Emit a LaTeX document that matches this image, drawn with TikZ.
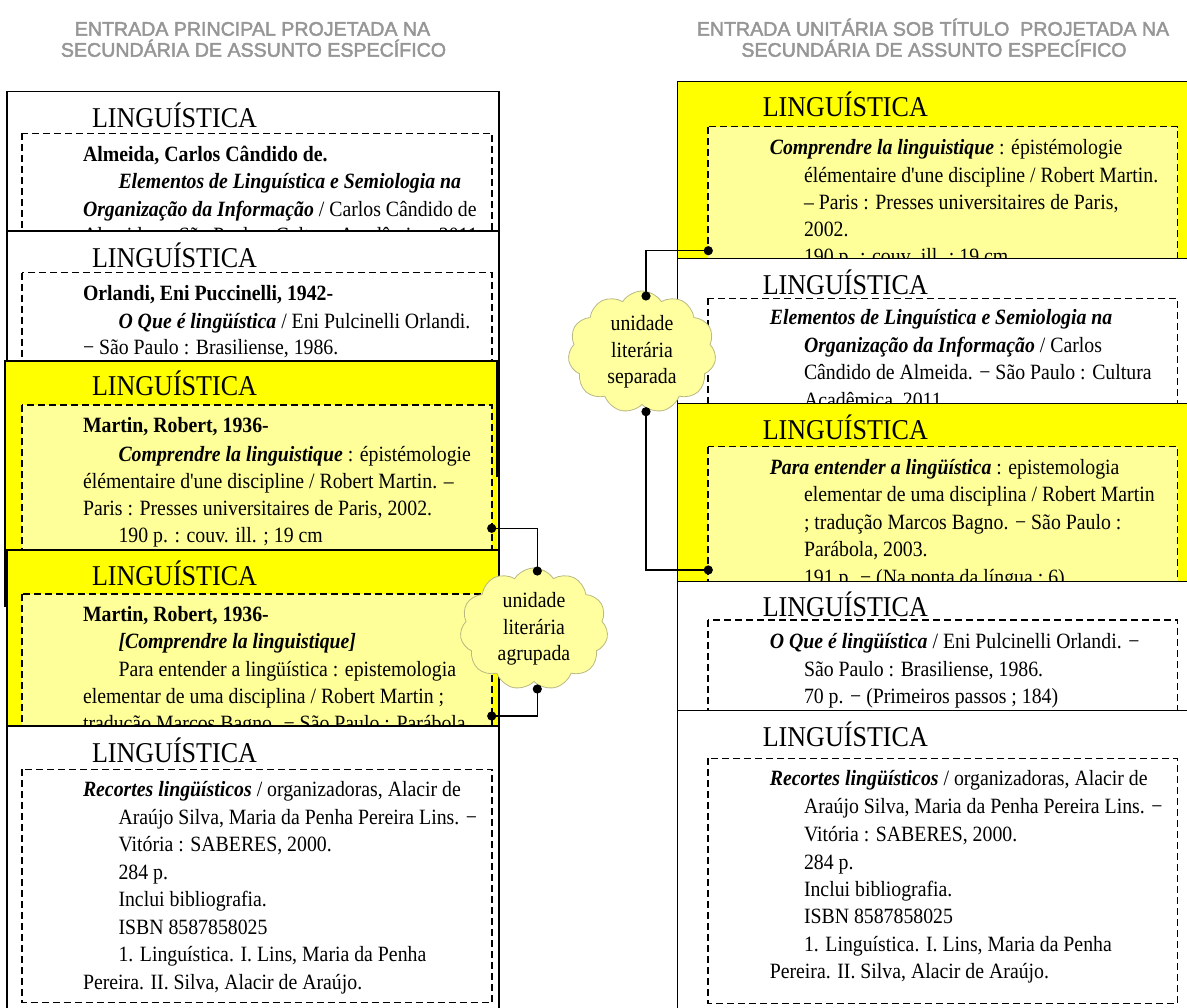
\documentclass[tikz,border=0pt]{standalone}
\usepackage{fontspec}
\setmainfont{Liberation Serif}[FakeStretch=0.908, Ligatures=TeXOff]
\newfontfamily\titlefont{Liberation Sans}[FakeBold=2.2]
\usetikzlibrary{shapes.symbols}

\definecolor{cardyellow}{RGB}{255,255,0}
\definecolor{paleyellow}{RGB}{255,255,153}
\definecolor{cloudfill}{RGB}{255,255,160}
\definecolor{cloudline}{RGB}{185,185,130}
\definecolor{titlegray}{RGB}{150,150,150}

\tikzset{
  bodytext/.style={anchor=base west, inner sep=0pt, outer sep=0pt, font=\fontsize{21.8}{26}\selectfont},
  headtext/.style={anchor=base west, inner sep=0pt, outer sep=0pt, font=\fontsize{28.7}{32}\selectfont},
  titletext/.style={anchor=base, inner sep=0pt, text=titlegray, font=\titlefont\fontsize{19.6}{22}\selectfont},
  cardedge/.style={draw=black, line width=1.4pt},
  innerbox/.style={draw=black, line width=1.1pt, dash pattern=on 7pt off 4pt},
  link/.style={draw=black, line width=1.5pt},
  bubble/.style={cloud, cloud puffs=11, cloud puff arc=115, aspect=1.2,
    minimum width=148pt, minimum height=122pt, inner sep=0pt,
    draw=cloudline, line width=0.8pt, fill=cloudfill, align=center,
    font=\fontsize{21.8}{26.5}\selectfont},
}

% one line of a catalogue card: name, x, baseline y, text
\newcommand\bodyline[4]{\node[bodytext] (#1) at (#2,#3) {#4};}
% card of the left column: name, top, header baseline, dashed top, card fill, inner fill
\newcommand\leftcard[6]{%
  \filldraw[cardedge, fill=#5] (7,#2) rectangle (499,1012);
  \draw[innerbox, fill=#6] (22,#4) rectangle (492,1002.7);
  \node[headtext] (#1) at (92,#3) {LINGUÍSTICA};}
% card of the right column: name, top, header baseline, dashed top, card fill, inner fill
\newcommand\rightcard[6]{%
  \filldraw[cardedge, fill=#5] (677.5,#2) rectangle (1200,1012);
  \draw[innerbox, fill=#6] (708,#4) rectangle (1177.5,1003.3);
  \node[headtext] (#1) at (762.8,#3) {LINGUÍSTICA};}

\begin{document}
\begin{tikzpicture}[x=1pt,y=-1pt]
\useasboundingbox (0,0) rectangle (1187,1008);
\clip (0,0) rectangle (1187,1008);
\fill[white] (0,0) rectangle (1187,1008);

% column titles
\node[titletext] (tl1) at (252.5,35.7) {ENTRADA PRINCIPAL PROJETADA NA};
\node[titletext] (tl2) at (253.5,56.7) {SECUNDÁRIA DE ASSUNTO ESPECÍFICO};
\node[titletext] (tr1) at (933,35.7) {ENTRADA UNITÁRIA SOB TÍTULO\ \ PROJETADA NA};
\node[titletext] (tr2) at (934,56.7) {SECUNDÁRIA DE ASSUNTO ESPECÍFICO};

% ---------------- left column: main entries ----------------
\leftcard{hA}{91.7}{128}{133.3}{white}{white}
\bodyline{a1}{83}{161.7}{\textbf{Almeida, Carlos Cândido de.}}
\bodyline{a2}{118.5}{189}{\textbf{\textit{Elementos de Linguística e Semiologia na}}}
\bodyline{a3}{83}{216.7}{\textbf{\textit{Organização da Informação}} / Carlos Cândido de}
\bodyline{a4}{83}{243}{Almeida. − São Paulo : Cultura Acadêmica, 2011.}

\leftcard{hB}{231}{267.7}{272.7}{white}{white}
\bodyline{b1}{83}{301}{\textbf{Orlandi, Eni Puccinelli, 1942-}}
\bodyline{b2}{118.5}{328.3}{\textbf{\textit{O Que é lingüística}} / Eni Pulcinelli Orlandi.}
\bodyline{b3}{83}{355}{− São Paulo : Brasiliense, 1986.}

% yellow card whose frame is only partly drawn
\fill[cardyellow] (5,361) rectangle (497,607);
\draw[innerbox, fill=paleyellow] (22,405) rectangle (492,1002.7);
\draw[cardedge] (5,607) -- (5,361) -- (497,361) -- (497,477);
\node[headtext] (hC) at (92,396) {LINGUÍSTICA};
\bodyline{c1}{83}{433}{\textbf{Martin, Robert, 1936-}}
\bodyline{c2}{118.5}{461}{\textbf{\textit{Comprendre la linguistique}} : épistémologie}
\bodyline{c3}{83}{488}{élémentaire d'une discipline / Robert Martin. –}
\bodyline{c4}{83}{515.7}{Paris : Presses universitaires de Paris, 2002.}
\bodyline{c5}{118.5}{542.7}{190 p. : couv. ill. ; 19 cm}

\leftcard{hD}{550}{585}{594}{cardyellow}{paleyellow}
\bodyline{d1}{83}{621.7}{\textbf{Martin, Robert, 1936-}}
\bodyline{d2}{118.5}{648}{\textbf{\textit{[Comprendre la linguistique]}}}
\bodyline{d3}{118.5}{676}{Para entender a lingüística : epistemologia}
\bodyline{d4}{83}{703}{elementar de uma disciplina / Robert Martin ;}
\bodyline{d5}{83}{730.5}{tradução Marcos Bagno. − São Paulo : Parábola}

\leftcard{hE}{726}{762.7}{769.3}{white}{white}
\bodyline{e1}{83}{796.7}{\textbf{\textit{Recortes lingüísticos}} / organizadoras, Alacir de}
\bodyline{e2}{118.5}{824}{Araújo Silva, Maria da Penha Pereira Lins. −}
\bodyline{e3}{118.5}{851.7}{Vitória : SABERES, 2000.}
\bodyline{e4}{118.5}{879.3}{284 p.}
\bodyline{e5}{118.5}{906.7}{Inclui bibliografia.}
\bodyline{e6}{118.5}{934}{ISBN 8587858025}
\bodyline{e7}{118.5}{961.7}{1. Linguística. I. Lins, Maria da Penha}
\bodyline{e8}{83}{989.3}{Pereira. II. Silva, Alacir de Araújo.}

% ---------------- right column: title entries ----------------
\rightcard{hF}{81.7}{116.7}{126.7}{cardyellow}{paleyellow}
\bodyline{f1}{769.8}{155}{\textbf{\textit{Comprendre la linguistique}} : épistémologie}
\bodyline{f2}{804}{182.3}{élémentaire d'une discipline / Robert Martin.}
\bodyline{f3}{804}{209.3}{– Paris : Presses universitaires de Paris,}
\bodyline{f4}{804}{236.7}{2002.}
\bodyline{f5}{804}{264}{190 p. : couv. ill. ; 19 cm}

\rightcard{hG}{258.3}{295}{298.3}{white}{white}
\bodyline{g1}{769.8}{325}{\textbf{\textit{Elementos de Linguística e Semiologia na}}}
\bodyline{g2}{804}{352.7}{\textbf{\textit{Organização da Informação}} / Carlos}
\bodyline{g3}{804}{380}{Cândido de Almeida. − São Paulo : Cultura}
\bodyline{g4}{804}{407.3}{Acadêmica, 2011.}

\rightcard{hH}{403.3}{439.3}{446.7}{cardyellow}{paleyellow}
\bodyline{h1}{769.8}{474.3}{\textbf{\textit{Para entender a lingüística}} : epistemologia}
\bodyline{h2}{804}{501.7}{elementar de uma disciplina / Robert Martin}
\bodyline{h3}{804}{529.3}{; tradução Marcos Bagno. − São Paulo :}
\bodyline{h4}{804}{556.7}{Parábola, 2003.}
\bodyline{h5}{804}{584}{191 p. − (Na ponta da língua ; 6)}

\rightcard{hI}{581.7}{616.7}{620}{white}{white}
\bodyline{i1}{769.8}{648.3}{\textbf{\textit{O Que é lingüística}} / Eni Pulcinelli Orlandi. −}
\bodyline{i2}{804}{676.7}{São Paulo : Brasiliense, 1986.}
\bodyline{i3}{804}{703.3}{70 p. − (Primeiros passos ; 184)}

\rightcard{hJ}{710.7}{746.7}{758.3}{white}{white}
\bodyline{j1}{769.8}{785}{\textbf{\textit{Recortes lingüísticos}} / organizadoras, Alacir de}
\bodyline{j2}{804}{813.3}{Araújo Silva, Maria da Penha Pereira Lins. −}
\bodyline{j3}{804}{841.7}{Vitória : SABERES, 2000.}
\bodyline{j4}{804}{869}{284 p.}
\bodyline{j5}{804}{896.7}{Inclui bibliografia.}
\bodyline{j6}{804}{923.3}{ISBN 8587858025}
\bodyline{j7}{804}{951.7}{1. Linguística. I. Lins, Maria da Penha}
\bodyline{j8}{769.8}{978.3}{Pereira. II. Silva, Alacir de Araújo.}

% ---------------- clouds and their links ----------------
\node[bubble] (cloudL) at (534,629) {unidade\\literária\\agrupada};
\node[bubble] (cloudR) at (642,352) {unidade\\literária\\separada};

\coordinate (pinL1) at (491.7,528.3);
\coordinate (pinL2) at (491.7,716);
\coordinate (hookL1) at (537.3,571);
\coordinate (hookL2) at (537.3,689);
\coordinate (pinR1) at (708.3,250.7);
\coordinate (pinR2) at (708.3,570);
\coordinate (hookR1) at (646,296);
\coordinate (hookR2) at (646,411.7);

\draw[link] (pinL1) -| (hookL1);
\draw[link] (hookL2) |- (pinL2);
\draw[link] (pinR1) -| (hookR1);
\draw[link] (hookR2) |- (pinR2);
\foreach \p in {pinL1,pinL2,hookL1,hookL2,pinR1,pinR2,hookR1,hookR2}
  \fill (\p) circle (4.6);
\end{tikzpicture}
\end{document}
